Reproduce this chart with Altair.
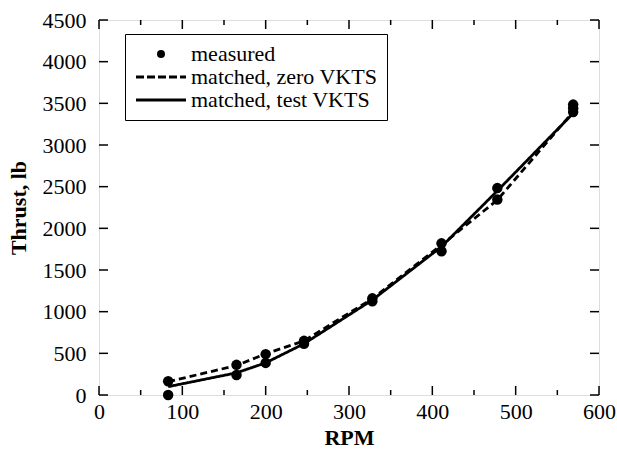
import altair as alt
import pandas as pd

# ---- data ----
series_names = ["measured", "matched, zero VKTS", "matched, test VKTS"]

meas_rpm = [83, 83, 165, 165, 200, 200, 246, 246, 328, 328, 411, 411, 478, 478, 569, 569, 569]
meas_thrust = [165, 0, 362, 240, 490, 385, 650, 615, 1125, 1160, 1820, 1725, 2483, 2345, 3485, 3440, 3395]

line_rpm = [83, 165, 200, 246, 328, 411, 478, 569]
zero_vkts = [160, 354, 495, 650, 1155, 1800, 2340, 3400]
test_vkts = [100, 266, 386, 615, 1140, 1780, 2450, 3380]

x_ticks = [0, 100, 200, 300, 400, 500, 600]
x_minor = [50, 150, 250, 350, 450, 550]
y_ticks = [0, 500, 1000, 1500, 2000, 2500, 3000, 3500, 4000, 4500]

meas_df = pd.DataFrame({"rpm": meas_rpm, "thrust": meas_thrust, "series": series_names[0]})
line_df = pd.concat([
    pd.DataFrame({"rpm": line_rpm, "thrust": zero_vkts, "series": series_names[1]}),
    pd.DataFrame({"rpm": line_rpm, "thrust": test_vkts, "series": series_names[2]}),
])
xmaj_df = pd.DataFrame({"rpm": x_ticks})
xmin_df = pd.DataFrame({"rpm": x_minor})
ymaj_df = pd.DataFrame({"thrust": y_ticks})

FONT = "Liberation Serif"
FS = 22
W, H = 500, 375

xscale = alt.Scale(domain=[0, 600], nice=False, zero=False)
yscale = alt.Scale(domain=[0, 4500], nice=False, zero=False)

# legend glyphs (filled shapes): dot, dashed bar, solid bar
DASHED = ("M-6.25,-0.35h2v0.7h-2z M-3.5,-0.35h2v0.7h-2z M-0.75,-0.35h2v0.7h-2z "
          "M2,-0.35h2v0.7h-2z M4.75,-0.35h1.5v0.7h-1.5z")
SOLID = "M-6.25,-0.35H6.25V0.35H-6.25Z"
dash_scale = alt.Scale(domain=series_names, range=[[1, 0], [7, 4], [1, 0]])
shape_scale = alt.Scale(domain=series_names, range=["circle", DASHED, SOLID])

legend = alt.Legend(
    title=None, orient="none", legendX=26, legendY=14,
    strokeColor="black", padding=9,
    labelFont=FONT, labelFontSize=FS, labelColor="black", labelLimit=400,
    symbolSize=64, symbolStrokeWidth=0, symbolFillColor="black",
    symbolOffset=16, labelOffset=19,
    rowPadding=1, fillColor="white",
)

x_main = alt.Axis(values=x_ticks, ticks=False, labelFont=FONT, labelFontSize=FS,
                  labelColor="black", labelPadding=6, title="RPM", titleFont=FONT,
                  titleFontSize=FS, titleFontWeight="bold", titleColor="black",
                  titlePadding=5, domain=False, grid=False, labelFlush=False, format="d")
y_main = alt.Axis(values=y_ticks, ticks=False, labelFont=FONT, labelFontSize=FS,
                  labelColor="black", labelPadding=13, title="Thrust, lb", titleFont=FONT,
                  titleFontSize=FS, titleFontWeight="bold", titleColor="black",
                  titlePadding=12, domain=False, grid=False, labelFlush=False, format="d")

points = alt.Chart(meas_df).mark_point(
    filled=True, color="black", strokeWidth=0, size=110, opacity=1
).encode(
    x=alt.X("rpm:Q", scale=xscale, axis=x_main),
    y=alt.Y("thrust:Q", scale=yscale, axis=y_main),
    shape=alt.Shape("series:N", scale=shape_scale, legend=legend),
)

lines = alt.Chart(line_df).mark_line(color="black", strokeWidth=2.8).encode(
    x=alt.X("rpm:Q", scale=xscale),
    y=alt.Y("thrust:Q", scale=yscale),
    strokeDash=alt.StrokeDash("series:N", scale=dash_scale, legend=None),
    detail="series:N",
)

# inward ticks drawn as short rules at the tick values
rule = dict(color="black", strokeWidth=1.5)
XQ = alt.X("rpm:Q", scale=xscale)
YQ = alt.Y("thrust:Q", scale=yscale)
ticks = [
    alt.Chart(xmaj_df).mark_rule(**rule).encode(x=XQ, y=alt.value(H), y2=alt.value(H - 9)),
    alt.Chart(xmin_df).mark_rule(**rule).encode(x=XQ, y=alt.value(H), y2=alt.value(H - 5)),
    alt.Chart(xmaj_df).mark_rule(**rule).encode(x=XQ, y=alt.value(0), y2=alt.value(9)),
    alt.Chart(xmin_df).mark_rule(**rule).encode(x=XQ, y=alt.value(0), y2=alt.value(5)),
    alt.Chart(ymaj_df).mark_rule(**rule).encode(y=YQ, x=alt.value(0), x2=alt.value(9)),
    alt.Chart(ymaj_df).mark_rule(**rule).encode(y=YQ, x=alt.value(W), x2=alt.value(W - 9)),
]

chart = alt.layer(points, lines, *ticks).properties(
    width=W, height=H,
    autosize=alt.AutoSizeParams(type="none"),
    padding={"left": 99, "top": 20, "right": 18, "bottom": 58},
).configure_view(stroke="black", strokeWidth=2).configure(background="white")

chart.save("out.html", embed_options={"renderer": "svg", "actions": False})
